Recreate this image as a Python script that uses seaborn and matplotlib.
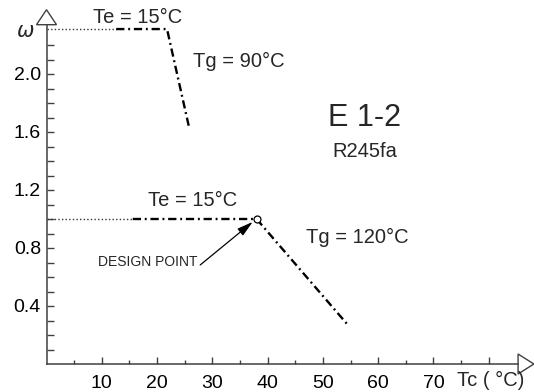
import matplotlib
matplotlib.use("Agg")
import matplotlib.pyplot as plt
import matplotlib.transforms as mtransforms
from matplotlib.patches import Polygon
from matplotlib.ticker import FixedLocator
import seaborn as sns

# curve for Te = 15°C, Tg = 90°C
tc_90_dot = [0.0, 12.6]
w_90_dot = [2.31, 2.31]
tc_90 = [12.6, 21.8, 25.8]
w_90 = [2.31, 2.31, 1.63]

# curve for Te = 15°C, Tg = 120°C
tc_120_dot = [0.0, 15.6]
w_120_dot = [1.0, 1.0]
tc_120 = [15.6, 38.0, 54.5]
w_120 = [1.0, 1.0, 0.27]

# design point
design_tc = [38.0]
design_w = [1.0]

x_major = [10, 20, 30, 40, 50, 60, 70, 80]
x_labels = ["10", "20", "30", "40", "50", "60", "70", ""]
y_major = [0.4, 0.8, 1.2, 1.6, 2.0]
y_labels = ["0.4", "0.8", "1.2", "1.6", "2.0"]

sns.set_theme(style="white")
plt.rcParams["font.family"] = ["Liberation Sans", "DejaVu Sans"]

fig = plt.figure(figsize=(5.34, 3.92), dpi=100)
ax = fig.add_axes([46.5 / 534, 28 / 392, 486.5 / 534, 353.8 / 392])
ax.set_xlim(0, 88)
ax.set_ylim(0, 2.44)

axis_col = "#404040"
dashdot = (0, (3.5, 1.6, 0.8, 1.6))

sns.lineplot(x=tc_90_dot, y=w_90_dot, ax=ax, color="#333333", lw=1.0,
             linestyle=(0, (1, 1.6)), sort=False, estimator=None)
sns.lineplot(x=tc_90, y=w_90, ax=ax, color="black", lw=1.7,
             linestyle=dashdot, sort=False, estimator=None)
sns.lineplot(x=tc_120_dot, y=w_120_dot, ax=ax, color="#333333", lw=1.0,
             linestyle=(0, (1, 1.6)), sort=False, estimator=None)
sns.lineplot(x=tc_120, y=w_120, ax=ax, color="black", lw=1.7,
             linestyle=dashdot, sort=False, estimator=None)
ax.plot(design_tc, design_w, "o", mfc="white", mec="black", ms=5, mew=0.9, zorder=5)

# spines and ticks
for s in ["top", "right"]:
    ax.spines[s].set_visible(False)
ax.spines["left"].set_bounds(0, 2.34)
ax.spines["bottom"].set_bounds(0, 85.3)
for s in ["left", "bottom"]:
    ax.spines[s].set_color(axis_col)
    ax.spines[s].set_linewidth(1.1)

ax.xaxis.set_major_locator(FixedLocator(x_major))
ax.set_xticklabels(x_labels)
ax.xaxis.set_minor_locator(FixedLocator([5, 15, 25, 35, 45, 55, 65, 75]))
ax.yaxis.set_major_locator(FixedLocator(y_major))
ax.set_yticklabels(y_labels)
ax.yaxis.set_minor_locator(FixedLocator([0.1, 0.2, 0.3, 0.5, 0.6, 0.7, 0.9, 1.0, 1.1,
                                         1.3, 1.4, 1.5, 1.7, 1.8, 1.9, 2.1, 2.2]))
ax.tick_params(axis="x", which="major", direction="in", length=5, width=1.0,
               color=axis_col, pad=8, labelsize=14, labelcolor="black", bottom=True)
ax.tick_params(axis="x", which="minor", direction="in", length=3, width=1.0,
               color=axis_col, bottom=True)
ax.tick_params(axis="y", which="both", direction="in", length=5, width=1.0,
               color=axis_col, pad=4, labelsize=14, labelcolor="black", left=True)
ax.set_xlabel("")
ax.set_ylabel("")

# arrow heads on axes
tr_top = fig.dpi_scale_trans + mtransforms.ScaledTranslation(0, 2.34, ax.transData)
ax.add_patch(Polygon([(-0.1, 0), (0.1, 0), (0, 0.15)], closed=True, fc="white",
                     ec=axis_col, lw=1.0, transform=tr_top, clip_on=False))
tr_right = fig.dpi_scale_trans + mtransforms.ScaledTranslation(85.3, 0, ax.transData)
ax.add_patch(Polygon([(0, -0.1), (0, 0.1), (0.158, 0)], closed=True, fc="white",
                     ec=axis_col, lw=1.0, transform=tr_right, clip_on=False))

# labels
ax.text(-3.9, 2.29, r"$\omega$", fontsize=15, ha="center", va="center", clip_on=False)
ax.text(80.4, -0.117, "Tc ( °C)", fontsize=14.5, ha="center", va="center", clip_on=False)

ax.text(16.4, 2.39, "Te = 15°C", fontsize=14.5, ha="center", va="center")
ax.text(26.5, 2.086, "Tg = 90°C", fontsize=14.5, ha="left", va="center")
ax.text(26.4, 1.13, "Te = 15°C", fontsize=14.5, ha="center", va="center")
ax.text(46.9, 0.872, "Tg = 120°C", fontsize=14.5, ha="left", va="center")
ax.text(57.6, 1.70, "E 1-2", fontsize=22, ha="center", va="center")
ax.text(57.6, 1.464, "R245fa", fontsize=14.5, ha="center", va="center")

ax.text(18.4, 0.70, "DESIGN POINT", fontsize=10, ha="center", va="center")
ax.annotate("", xy=(37.3, 0.98), xytext=(27.8, 0.683),
            arrowprops=dict(arrowstyle="-|>,head_length=0.8,head_width=0.22",
                            color="black", lw=0.9, mutation_scale=12,
                            shrinkA=0, shrinkB=0))

fig.savefig("out.png", dpi=100)
